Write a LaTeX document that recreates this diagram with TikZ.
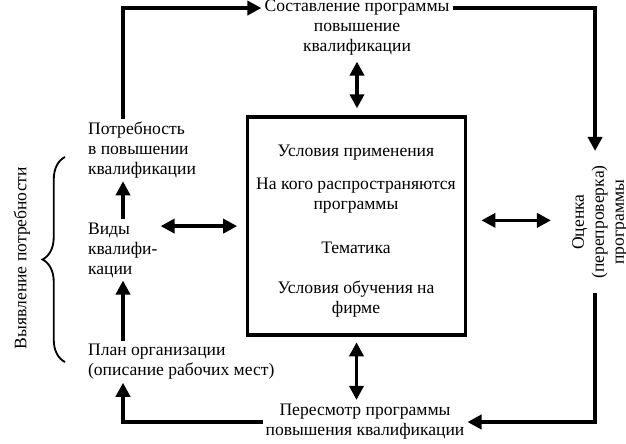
\documentclass[tikz,border=0pt]{standalone}
\usepackage{fontspec}
\setmainfont{Liberation Serif}
\usetikzlibrary{arrows.meta, positioning, calc, decorations.pathreplacing}

\begin{document}
\begin{tikzpicture}[x=0.025cm, y=-0.025cm,
  txt/.style={font=\fontsize{12.5}{14.2}\selectfont, inner sep=2pt},
  frame/.style={draw, line width=2.6pt, minimum width=5.45cm, minimum height=5.44cm},
  arr/.style={-{Triangle[length=10pt, width=10pt]}, line width=2.6pt},
  dbl/.style={{Triangle[length=10pt, width=10pt]}-{Triangle[length=10pt, width=10pt]}, line width=2.6pt},
]
  \useasboundingbox (0,0) rectangle (626,443);
  \coordinate (col) at (123,0);

  % left column
  \node[txt, anchor=west, align=left] (need) at (85,150) {Потребность\\в повышении\\квалификации};
  \node[txt, anchor=west, align=left] (kinds) at (85,250) {Виды\\квалифи-\\кации};
  \node[txt, anchor=west, align=left] (plan) at (85,362) {План организации\\(описание рабочих мест)};
  \node[txt, rotate=90] (detect) at (22,258) {Выявление потребности};
  \draw[line width=1.3pt, decorate, decoration={brace, amplitude=16pt}] (65,362) -- (65,157);

  % top, bottom, right
  \node[txt, align=center] (comp) at (357,28) {Составление программы\\повышение\\квалификации};
  \node[txt, align=center] (rev) at (365,422) {Пересмотр программы\\повышения квалификации};
  \node[txt, rotate=90, align=center, inner xsep=10pt] (eval) at (600,222) {Оценка\\(перепроверка)\\программы};

  % central box
  \node[frame] (box) at (356.5,226) {};
  \node[txt] (use) at (356,153) {Условия применения};
  \node[txt, align=center] (whom) at (356,196) {На кого распространяются\\программы};
  \node[txt] (topic) at (356,248) {Тематика};
  \node[txt, align=center] (train) at (356,299) {Условия обучения на\\фирме};

  % cycle
  \draw[arr] (need.north -| col) |- ([yshift=14.2pt]comp.west);
  \draw[arr] ([yshift=14.2pt]comp.east) -| ([xshift=-3.5pt]eval.east);
  \draw[arr] ([xshift=-3.5pt]eval.west) |- (rev.east);
  \draw[arr] (rev.west) -| (plan.south -| col);
  \draw[arr] (plan.north -| col) -- (kinds.south -| col);
  \draw[arr] (kinds.north -| col) -- (need.south -| col);

  % links with the box
  \draw[dbl, shorten <=2pt, shorten >=5pt] (comp.south) -- (comp.south |- box.north);
  \draw[dbl, shorten >=6pt] ([yshift=17pt]kinds.east) -- ([yshift=17pt]kinds.east -| box.west);
  \draw[dbl, shorten <=10pt, shorten >=13pt] ([yshift=4pt]box.east) -- ([yshift=4pt]box.east -| eval.north);
  \draw[dbl, shorten <=4pt, shorten >=1pt] (box.south) -- (box.south |- rev.north);
\end{tikzpicture}
\end{document}
